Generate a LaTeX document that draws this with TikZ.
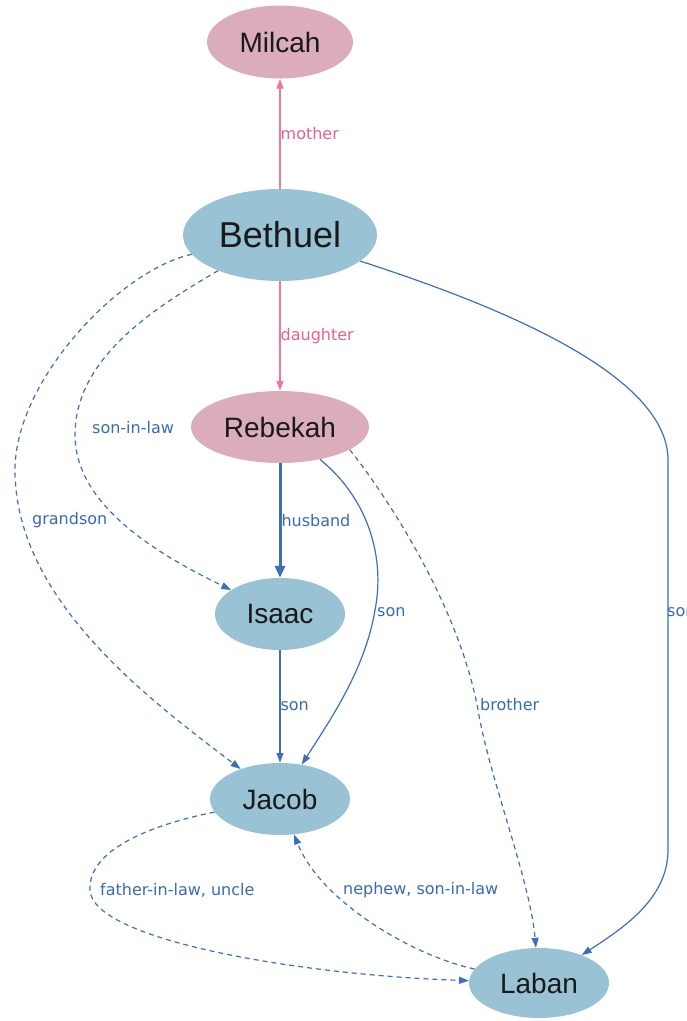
\documentclass[tikz,border=0pt]{standalone}
\usepackage{fontspec}
\setmainfont{Liberation Sans}
\newfontfamily\labfont{DejaVu Sans}
\usetikzlibrary{arrows.meta}
\usetikzlibrary{shapes.geometric}
\definecolor{nodepink}{HTML}{DBADBA}
\definecolor{nodeblue}{HTML}{99C2D4}
\definecolor{edgepink}{HTML}{EE76A0}
\definecolor{edgeblue}{HTML}{3D6FB8}
\definecolor{labpink}{HTML}{E8608E}
\definecolor{labblue}{HTML}{3A6AAE}
\tikzset{n/.style={ellipse,inner sep=0pt,font=\fontsize{28}{28}\selectfont,text=black!90}}
\tikzset{pk/.style={n,fill=nodepink}}
\tikzset{bl/.style={n,fill=nodeblue}}
\tikzset{big/.style={font=\fontsize{36}{36}\selectfont}}
\tikzset{l/.style={font=\labfont\fontsize{16}{16}\selectfont,inner sep=0pt,anchor=west}}
\tikzset{lp/.style={text=labpink}}
\tikzset{lb/.style={text=labblue}}
\tikzset{pe/.style={draw=edgepink,line width=1.4pt}}
\tikzset{be/.style={draw=edgeblue,line width=1.2pt}}
\tikzset{de/.style={be,dash pattern=on 5pt off 4pt}}

\begin{document}
\begin{tikzpicture}[x=1pt,y=-1pt,>={Triangle[length=10pt,width=7pt]}]
          \useasboundingbox (0,0) rectangle (687,1021);
          \node[pk,minimum width=146pt,minimum height=73pt] (Milcah) at (280,42) {Milcah};
          \node[bl,big,minimum width=194pt,minimum height=92pt] (Bethuel) at (280,235) {Bethuel}
            edge [pe,->] node [l,lp] {mother} (Milcah);
          \node[pk,minimum width=178pt,minimum height=72pt] (Rebekah) at (280,427) {Rebekah}
            edge [pe,<-] node [l,lp] {daughter} (Bethuel);
          \node[bl,minimum width=130pt,minimum height=72pt] (Isaac) at (280,614) {Isaac}
            edge [be,line width=3pt,{Triangle[length=12pt,width=10pt]}-] node [l,lb] {husband} (Rebekah);
          \node[bl,minimum width=140pt,minimum height=72pt] (Jacob) at (280,799) {Jacob}
            edge [be,<-] node [l,lb] {son} (Isaac);
          \node[bl,minimum width=140pt,minimum height=70pt] (Laban) at (539,983) {Laban};
          % curved links
          \draw[de,->] (Bethuel) .. controls (150,310) and (75,360) .. (75,435)
            .. controls (75,510) and (170,560) .. (Isaac);
          \draw[de,->] (Bethuel) .. controls (120,270) and (15,380) .. (15,470)
            .. controls (15,600) and (150,700) .. (Jacob);
          \draw[be,->] (Bethuel) .. controls (480,300) and (668,370) .. (668,460) -- (668,850)
            .. controls (668,900) and (620,930) .. (Laban);
          \draw[be,->] (Rebekah) .. controls (370,500) and (385,560) .. (375,610)
            .. controls (365,670) and (330,720) .. (Jacob);
          \draw[de,->] (Rebekah.-18) .. controls (390,500) and (460,610) .. (478,710)
            .. controls (490,780) and (530,880) .. (Laban);
          \draw[de,->] (Jacob) .. controls (150,825) and (88,850) .. (90,890)
            .. controls (92,940) and (300,975) .. (Laban);
          \draw[de,->] (Laban) .. controls (410,955) and (320,900) .. (Jacob);
          % labels
          \node[l,lb] (lSonInLaw) at (92,428) {son-in-law};
          \node[l,lb] (lGrandson) at (32,520) {grandson};
          \node[l,lb] (lSonLaban) at (667,612) {son};
          \node[l,lb] (lSonJacob) at (377,612) {son};
          \node[l,lb] (lBrother) at (480,705) {brother};
          \node[l,lb] (lFatherInLaw) at (100,890) {father-in-law, uncle};
          \node[l,lb] (lNephew) at (343,890) {nephew, son-in-law};
        \end{tikzpicture}
\end{document}
